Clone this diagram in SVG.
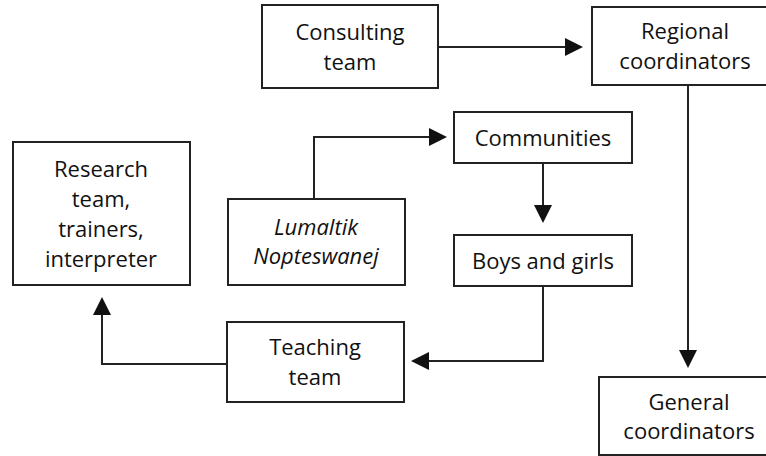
<svg xmlns="http://www.w3.org/2000/svg" width="766" height="456" viewBox="0 0 766 456">
<style>
.box{fill:#fff;stroke:#222;stroke-width:2}
.lbl{font-family:"Open Sans","Noto Sans",sans-serif;font-size:22px;fill:#111;text-anchor:middle}
.it{font-style:italic}
.conn{fill:none;stroke:#222;stroke-width:2}
</style>
<defs>
<marker id="arr" markerUnits="userSpaceOnUse" markerWidth="18" markerHeight="18" refX="1" refY="9" orient="auto">
<path d="M0,0 L18,9 L0,18 z" fill="#111"/>
</marker>
</defs>
<rect width="766" height="456" fill="#fff"/>
<g id="connectors">
<path class="conn" d="M438,47 H566" marker-end="url(#arr)"/>
<path class="conn" d="M314,199 V137 H430" marker-end="url(#arr)"/>
<path class="conn" d="M543,163 V206" marker-end="url(#arr)"/>
<path class="conn" d="M543,286 V361 H428" marker-end="url(#arr)"/>
<path class="conn" d="M227,364 H102 V314" marker-end="url(#arr)"/>
<path class="conn" d="M688,85 V351" marker-end="url(#arr)"/>
</g>
<g id="consulting">
<rect class="box" x="262" y="5" width="176" height="83"/>
<text class="lbl" x="350" y="39.5">Consulting</text>
<text class="lbl" x="350" y="69.5">team</text>
</g>
<g id="regional">
<rect class="box" x="592" y="7" width="190" height="78"/>
<text class="lbl" x="685" y="39">Regional</text>
<text class="lbl" x="685" y="69">coordinators</text>
</g>
<g id="research">
<rect class="box" x="13" y="142" width="177" height="143"/>
<text class="lbl" x="101" y="176.5">Research</text>
<text class="lbl" x="101" y="206.5">team,</text>
<text class="lbl" x="101" y="236.5">trainers,</text>
<text class="lbl" x="101" y="266.5">interpreter</text>
</g>
<g id="lumaltik">
<rect class="box" x="228" y="199" width="177" height="86"/>
<text class="lbl it" x="316" y="235">Lumaltik</text>
<text class="lbl it" x="316" y="264">Nopteswanej</text>
</g>
<g id="communities">
<rect class="box" x="454" y="112" width="178" height="51"/>
<text class="lbl" x="543" y="145.5">Communities</text>
</g>
<g id="boys">
<rect class="box" x="454" y="235" width="178" height="51"/>
<text class="lbl" x="543" y="268.5">Boys and girls</text>
</g>
<g id="teaching">
<rect class="box" x="227" y="322" width="177" height="80"/>
<text class="lbl" x="315" y="355">Teaching</text>
<text class="lbl" x="315" y="385">team</text>
</g>
<g id="general">
<rect class="box" x="599" y="377" width="190" height="78"/>
<text class="lbl" x="689" y="409.5">General</text>
<text class="lbl" x="689" y="439">coordinators</text>
</g>
</svg>
